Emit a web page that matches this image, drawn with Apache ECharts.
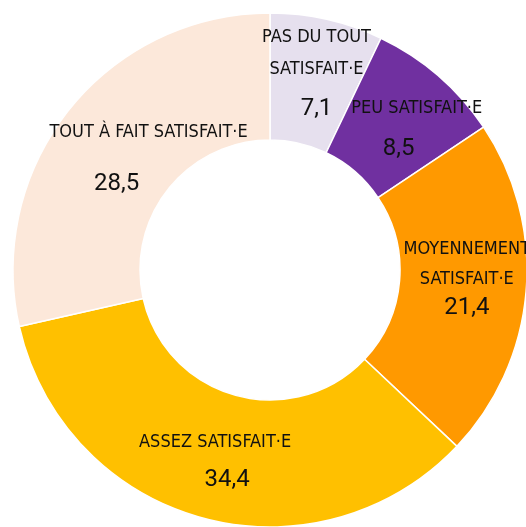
<!DOCTYPE html>
<html>
<head>
<meta charset="utf-8">
<script src="https://cdn.jsdelivr.net/npm/echarts@6/dist/echarts.min.js"></script>
<style>
  html, body { margin: 0; padding: 0; background: #fff; }
  #main { width: 526px; height: 527px; }
</style>
</head>
<body>
<div id="main"></div>
<script>
// data
const categories = [
  'PAS DU TOUT\nSATISFAIT·E',
  'PEU SATISFAIT·E',
  'MOYENNEMENT\nSATISFAIT·E',
  'ASSEZ SATISFAIT·E',
  'TOUT À FAIT SATISFAIT·E'
]
const values = [7.1, 8.5, 21.4, 34.4, 28.5]
const colors = ['#E6E0EE', '#7030A0', '#FF9900', '#FFC000', '#FCE8DA']

// label tweaks (line heights, shifts) to mimic the hand-placed labels
const titleLH = [32, 32, 30, 32, 32]
const valueLH = [48, 50, 29, 42, 72]
const valuePad = [[0, 0, 0, 0], [0, 36, 0, 0], [0, 0, 0, 0], [0, 0, 0, 24], [0, 64, 0, 0]]
const shifts = [[3, -1], [18, 12], [1, -8], [-3, 4], [32, 21]]

const fmt = v => String(v).replace('.', ',')

const chart = echarts.init(document.getElementById('main'))

const data = values.map((v, i) => ({
  name: categories[i],
  value: v,
  itemStyle: { color: colors[i] },
  label: {
    formatter: () => categories[i].split('\n').map(s => '{t|' + s + '}').join('\n') + '\n{v|' + fmt(v) + '}',
    rich: {
      t: {
        fontFamily: '"Liberation Sans Narrow", "DejaVu Sans Condensed", sans-serif',
        fontSize: 18,
        lineHeight: titleLH[i],
        color: '#111'
      },
      v: {
        fontFamily: 'Roboto, "Liberation Sans", sans-serif',
        fontSize: 24,
        lineHeight: valueLH[i],
        padding: valuePad[i],
        color: '#111'
      }
    }
  }
}))

chart.setOption({
  animation: false,
  series: [{
    type: 'pie',
    center: [270, 270],
    radius: [130, 257],
    startAngle: 90,
    clockwise: true,
    avoidLabelOverlap: false,
    itemStyle: { borderColor: '#fff', borderWidth: 1.5 },
    label: { show: true, position: 'inside', align: 'center', overflow: 'none' },
    labelLine: { show: false },
    emphasis: { disabled: true },
    labelLayout: params => ({ dx: shifts[params.dataIndex][0], dy: shifts[params.dataIndex][1] }),
    data: data
  }]
})
</script>
</body>
</html>
